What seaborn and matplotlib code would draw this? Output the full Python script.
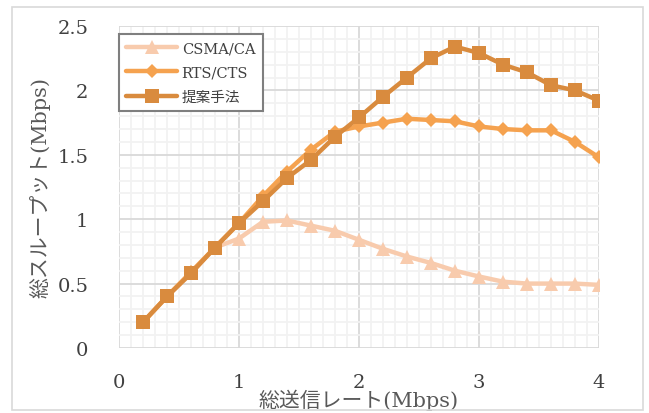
import numpy as np
import pandas as pd
import matplotlib
matplotlib.use("Agg")
import matplotlib.pyplot as plt
import seaborn as sns
from matplotlib.patches import Rectangle
from matplotlib.ticker import MultipleLocator

# ---- data ----
rate = [0.2, 0.4, 0.6, 0.8, 1.0, 1.2, 1.4, 1.6, 1.8, 2.0,
        2.2, 2.4, 2.6, 2.8, 3.0, 3.2, 3.4, 3.6, 3.8, 4.0]
csma_ca = [0.20, 0.40, 0.58, 0.78, 0.85, 0.98, 0.99, 0.95, 0.91, 0.84,
           0.77, 0.71, 0.66, 0.60, 0.555, 0.515, 0.50, 0.50, 0.50, 0.49]
rts_cts = [0.20, 0.40, 0.59, 0.78, 0.97, 1.18, 1.37, 1.54, 1.68, 1.72,
           1.75, 1.78, 1.77, 1.76, 1.72, 1.70, 1.69, 1.69, 1.60, 1.48]
proposed = [0.20, 0.40, 0.58, 0.78, 0.97, 1.14, 1.32, 1.46, 1.64, 1.79,
            1.95, 2.10, 2.25, 2.34, 2.29, 2.20, 2.14, 2.04, 2.00, 1.92]
series_names = ["CSMA/CA", "RTS/CTS", "提案手法"]
x_ticks = [0, 1, 2, 3, 4]
y_ticks = [0, 0.5, 1, 1.5, 2, 2.5]
x_label = "総送信レート(Mbps)"
y_label = "総スループット(Mbps)"

colors = ["#F8CBAD", "#F5A24F", "#D98B3E"]
markers = ["^", "D", "s"]
msizes = [10, 7, 10]

df = pd.DataFrame({
    "rate": rate * 3,
    "throughput": csma_ca + rts_cts + proposed,
    "series": sum([[n] * len(rate) for n in series_names], []),
})

sns.set_theme(style="white")
plt.rcParams["font.family"] = ["DejaVu Serif", "Noto Sans CJK JP"]

fig = plt.figure(figsize=(6.49, 4.14), dpi=100)
ax = fig.add_axes([119 / 649, 1 - 349 / 414, 480 / 649, 322 / 414])

for name, c, m, ms in zip(series_names, colors, markers, msizes):
    sub = df[df["series"] == name]
    sns.lineplot(data=sub, x="rate", y="throughput", ax=ax, color=c,
                 linewidth=3.2, marker=m, markersize=ms,
                 markeredgewidth=0, label=name, zorder=3)

ax.set_xlim(0, 4)
ax.set_ylim(0, 2.5)
ax.set_xticks(x_ticks)
ax.set_xticklabels([str(t) for t in x_ticks])
ax.set_yticks(y_ticks)
ax.set_yticklabels(["0", "0.5", "1", "1.5", "2", "2.5"])
ax.xaxis.set_minor_locator(MultipleLocator(0.1))
ax.yaxis.set_minor_locator(MultipleLocator(0.1))
ax.grid(which="minor", color="#F2F2F2", linewidth=1.3, zorder=0)
ax.grid(which="major", color="#D9D9D9", linewidth=1.3, zorder=1)
ax.set_axisbelow(True)
for s in ax.spines.values():
    s.set_visible(False)
ax.tick_params(which="both", length=0)
ax.tick_params(axis="x", pad=18, labelsize=14, colors="#404040")
ax.tick_params(axis="y", pad=22, labelsize=14, colors="#404040")

ax.set_xlabel(x_label, fontsize=15, color="#595959")
ax.xaxis.set_label_coords(0.5, -0.158)
ax.xaxis.label.set_va("center")
ax.set_ylabel(y_label, fontsize=15, color="#595959")
ax.yaxis.set_label_coords(-0.165, 0.5)
ax.yaxis.label.set_va("center")

leg = ax.legend(loc="upper left", bbox_to_anchor=(0.0, 0.975), frameon=True,
                fancybox=False, fontsize=10.5, handlelength=3.5,
                borderpad=0.5, labelspacing=0.7, handletextpad=0.3,
                borderaxespad=0)
leg.get_frame().set_edgecolor("#7F7F7F")
leg.get_frame().set_linewidth(1.5)
leg.get_frame().set_alpha(1)
for t in leg.get_texts():
    t.set_color("#404040")

fig.patches.append(Rectangle((12 / 649, 3 / 414), 631 / 649, 403 / 414,
                             transform=fig.transFigure, fill=False,
                             edgecolor="#D9D9D9", linewidth=1.2))

fig.savefig("out.png", dpi=100)
